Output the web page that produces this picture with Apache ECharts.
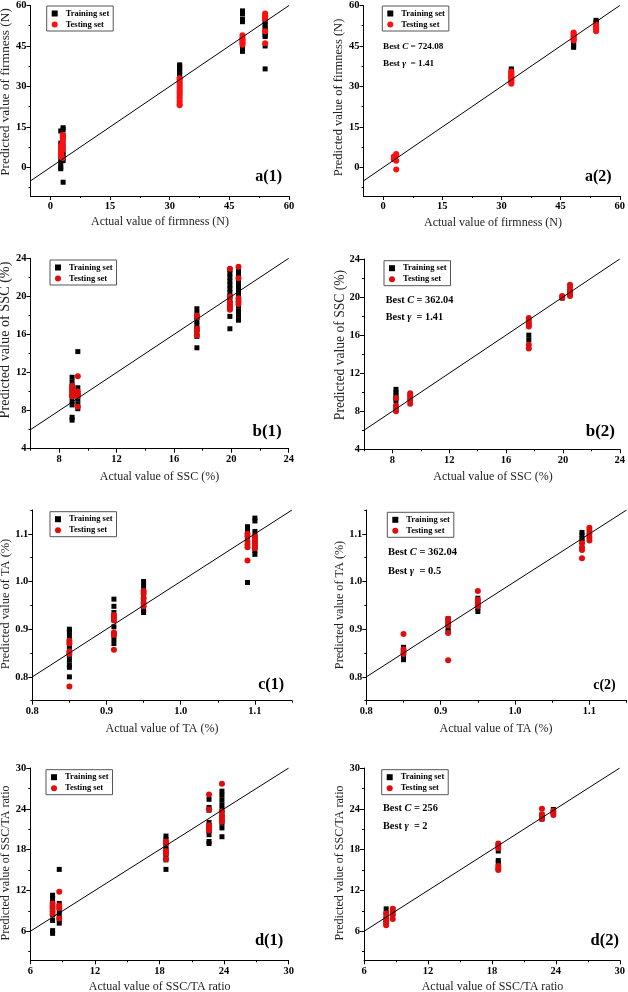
<!DOCTYPE html>
<html>
<head>
<meta charset="utf-8">
<script src="https://cdn.jsdelivr.net/npm/echarts@6/dist/echarts.min.js"></script>
<style>html,body{margin:0;padding:0;background:#fff;}#c{width:628px;height:992px;}</style>
</head>
<body>
<div id="c"></div>
<script>
// ---------- DATA (cluster x positions and predicted values per cluster) ----------
const a1TrainX = [2.6, 3.2, 32.5, 48.3, 54.0];
const a1TrainY = [[13.5, 9, 7, 5, 3, 1.5, 0, -0.5], [14.7, 14, 12, 10.5, 8, 6, 4.5, 3.5, 2.5, -5.5], [38, 37.5, 37, 36, 35.5, 34.5, 34, 33, 32, 31, 30, 29, 28, 27], [58, 57, 55, 54, 48, 47, 45, 44, 43], [56, 55, 54, 53, 52, 51, 50, 49, 48.5, 45, 36.5]];
const a1TestX = [2.7, 3.1, 32.5, 48.3, 54.0];
const a1TestY = [[8, 7, 6, 5, 4.5, 4], [12, 11, 9.5, 9, 7.5, 6.5, 3.5], [33, 32.5, 31.5, 30.5, 29.5, 28.5, 27.5, 26.5, 25.5, 24.5, 23.5, 23], [49, 48, 47.5, 47, 46.5, 46, 45.5], [57, 56, 55, 50.5, 46]];

const a2TrainX = [3.0, 32.5, 48.3, 54.0];
const a2TrainY = [[3.5, 4], [36.5, 36, 35.5, 34, 33], [47, 46, 45, 44.5], [54.5, 54, 53.5]];
const a2TestX = [2.7, 3.3, 32.5, 48.3, 54.0];
const a2TestY = [[3, 3.5, 4], [5, 4.5, 2.5, -0.8], [35.5, 35, 34.5, 34, 33.5, 33, 32.5, 32, 31.5, 31], [50, 49.5, 49, 48.5, 48, 47.5, 47], [53, 52.5, 52, 51.5, 51, 50.5]];

const b1TrainX = [8.9, 9.3, 17.6, 19.9, 20.5];
const b1TrainY = [[11.5, 11, 10.5, 10, 9.5, 9, 8.6, 7.3, 7.0], [14.2, 10.4, 9.8, 9.2, 8.7, 8.2], [18.7, 18.2, 17.8, 17.4, 17, 16.6, 16.2, 15.8, 14.6], [22.8, 22.4, 22, 21.6, 21.2, 20.8, 20.4, 20, 19.6, 19.2, 18.8, 17.9, 16.6], [23, 22.6, 22.2, 21.8, 21.4, 21, 20.6, 20.2, 19.8, 19.4, 19, 18.5, 18, 17.5]];
const b1TestX = [8.9, 9.3, 17.6, 19.9, 20.5];
const b1TestY = [[10.6, 10.3, 10, 9.7, 9.5], [11.6, 10, 9.7, 9.5, 8.4], [18, 17.8, 16.6, 16.4, 15.9], [22.9, 20, 19.4, 19.1, 18.8, 18.6], [23.1, 21.9, 19.8, 19.5, 19.2]];

const b2TrainX = [8.25, 9.25, 17.6, 19.95, 20.5];
const b2TrainY = [[10.3, 10, 9.7, 9.4, 9.1], [9.6, 9.2], [17.1, 16.0, 15.5], [20, 19.9], [20.6, 20.3]];
const b2TestX = [8.25, 9.25, 17.6, 19.95, 20.5];
const b2TestY = [[9.4, 8.6, 8.3, 8.0], [9.9, 9.6, 9.2, 8.8], [17.8, 17.5, 17.2, 16.9, 15.0, 14.6], [20.1, 19.9], [21.3, 21, 20.7, 20.4, 20.1]];

const c1TrainX = [0.85, 0.91, 0.95, 1.09, 1.1];
const c1TrainY = [[0.90, 0.895, 0.885, 0.875, 0.865, 0.855, 0.845, 0.835, 0.825, 0.82, 0.80], [0.963, 0.948, 0.935, 0.92, 0.905, 0.89, 0.88, 0.87], [1.0, 0.99, 0.98, 0.97, 0.96, 0.95, 0.94, 0.935], [1.115, 1.108, 1.1, 1.09, 1.085, 0.998], [1.133, 1.127, 1.105, 1.095, 1.085, 1.075, 1.065, 1.057]];
const c1TestX = [0.85, 0.91, 0.95, 1.09, 1.1];
const c1TestY = [[0.876, 0.87, 0.853, 0.848, 0.78], [0.93, 0.925, 0.918, 0.893, 0.888, 0.857], [0.98, 0.975, 0.965, 0.955, 0.948], [1.1, 1.095, 1.085, 1.078, 1.072, 1.044], [1.095, 1.09, 1.085, 1.08, 1.075, 1.07]];

const c2TrainX = [0.85, 0.91, 0.95, 1.09, 1.1];
const c2TrainY = [[0.862, 0.855, 0.848, 0.84, 0.836], [0.922, 0.912, 0.902, 0.895], [0.965, 0.955, 0.945, 0.937], [1.103, 1.097, 1.09, 1.085], [1.1, 1.095]];
const c2TestX = [0.85, 0.91, 0.95, 1.09, 1.1];
const c2TestY = [[0.89, 0.858, 0.852, 0.848], [0.922, 0.915, 0.908, 0.892, 0.835], [0.98, 0.962, 0.955, 0.948], [1.08, 1.072, 1.066, 1.049], [1.113, 1.107, 1.1, 1.093, 1.086]];

const d1TrainX = [8.07, 8.69, 18.6, 22.6, 23.8];
const d1TrainY = [[11.3, 10.8, 10.2, 9.6, 9.0, 8.4, 7.6, 6.1, 5.7], [15.1, 10.1, 9.6, 9.0, 8.4, 7.8, 7.2], [20, 19.5, 19, 18.5, 18, 17.5, 17, 16.5, 15.1], [25.4, 24.2, 23.8, 22, 21.5, 20.8, 20.2, 19.2, 18.9], [26.6, 26, 25.3, 24.6, 24, 23.3, 22.6, 21.9, 21.2, 19.9]];
const d1TestX = [8.07, 8.69, 18.6, 22.6, 23.8];
const d1TestY = [[10.1, 9.7, 9.3, 8.9, 8.5], [11.8, 9.8, 9.4, 7.9], [19.2, 18.9, 17.8, 17.4, 16.6], [26.1, 23.9, 21.6, 21.2, 20.8], [27.7, 23.6, 23, 22.5, 22.1]];

const d2TrainX = [8.08, 8.7, 18.6, 22.7, 23.77];
const d2TrainY = [[9.3, 8.6, 7.8, 7.2], [9.2, 8.6], [17.8, 16.4, 16.1], [23.1, 22.5], [23.9, 23.5]];
const d2TestX = [8.08, 8.7, 18.6, 22.7, 23.77];
const d2TestY = [[8.6, 8.0, 7.5, 7.2, 6.9], [9.3, 8.9, 8.4, 7.8], [18.9, 18.6, 18.2, 15.6, 15.2, 15.0], [24, 23.2, 22.8, 22.5], [23.7, 23.4, 23.1]];

// Axis ranges and tick values
const aXRange = [-5, 60], aYRange = [-10.6, 60];
const aMajor = [0, 15, 30, 45, 60], aXMinor = [7.5, 22.5, 37.5, 52.5], aYMinor = [-7.5, 7.5, 22.5, 37.5, 52.5];
const bXRange = [6, 24], bYRange = [4, 24];
const bXMajor = [8, 12, 16, 20, 24], bYMajor = [4, 8, 12, 16, 20, 24], bMinor = [6, 10, 14, 18, 22];
const cXRange = [0.8, 1.15], cYRange = [0.75, 1.15];
const cMajor = [0.8, 0.9, 1.0, 1.1], cXMinor = [0.85, 0.95, 1.05, 1.15], cYMinor = [0.75, 0.85, 0.95, 1.05, 1.15];
const dXRange = [6, 30], dYRange = [1.74, 30];
const dMajor = [6, 12, 18, 24, 30], dXMinor = [9, 15, 21, 27], dYMinor = [3, 9, 15, 21, 27];

const xNames = ['Actual value of firmness (N)', 'Actual value of SSC (%)', 'Actual value of TA (%)', 'Actual value of SSC/TA ratio'];
const yNames = ['Predicted value of firmness (N)', 'Predicted value of SSC (%)', 'Predicted value of TA (%)', 'Predicted value of SSC/TA ratio'];
const panelLabels = ['a(1)', 'a(2)', 'b(1)', 'b(2)', 'c(1)', 'c(2)', 'd(1)', 'd(2)'];
const bestC = ['724.08', '362.04', '362.04', '256'];
const bestGamma = ['1.41', '1.41', '0.5', '2'];
const legendNames = ['Training set', 'Testing set'];

// ---------- LAYOUT ----------
const FONT = '"Liberation Serif", "Times New Roman", serif';
const panels = [
  {grid: [30.5, 5, 258.5, 191], xr: aXRange, yr: aYRange, xMaj: aMajor, xMin: aXMinor, yMaj: aMajor, yMin: aYMinor, tr: [a1TrainX, a1TrainY], te: [a1TestX, a1TestY], red: '#ff1010', fmt: null,
   xName: [160, 222], yName: [5.5, 92, 13.3], lab: [282, 177, 16], leg: [46.7, 6]},
  {grid: [363.5, 5, 258, 191], xr: aXRange, yr: aYRange, xMaj: aMajor, xMin: aXMinor, yMaj: aMajor, yMin: aYMinor, tr: [a2TrainX, a2TrainY], te: [a2TestX, a2TestY], red: '#ff1010', fmt: null,
   xName: [493, 222.7], yName: [339, 97.5, 12.5], lab: [611.7, 176.7, 16], leg: [382.3, 6], best: [383, 46.7, 63.3, 9.2, 0]},
  {grid: [30.5, 258.3, 258.2, 190.4], xr: bXRange, yr: bYRange, xMaj: bXMajor, xMin: bMinor, yMaj: bYMajor, yMin: bMinor, tr: [b1TrainX, b1TrainY], te: [b1TestX, b1TestY], red: '#e00d0d', fmt: null,
   xName: [159.5, 476.7], yName: [5.5, 340, 14.2], lab: [281.7, 431.7, 17], leg: [50, 260]},
  {grid: [364, 259, 258, 190.3], xr: bXRange, yr: bYRange, xMaj: bXMajor, xMin: bMinor, yMaj: bYMajor, yMin: bMinor, tr: [b2TrainX, b2TrainY], te: [b2TestX, b2TestY], red: '#e00d0d', fmt: null,
   xName: [493, 477.3], yName: [340, 345, 13.6], lab: [615, 431.7, 17], leg: [384, 260.7], best: [385.7, 300, 317.3, 10.3, 1]},
  {grid: [32.3, 510, 259.7, 190.7], xr: cXRange, yr: cYRange, xMaj: cMajor, xMin: cXMinor, yMaj: cMajor, yMin: cYMinor, tr: [c1TrainX, c1TrainY], te: [c1TestX, c1TestY], red: '#e00d0d', fmt: 1,
   xName: [162, 729.3], yName: [5.8, 604, 12.4], lab: [284, 685, 16], leg: [50, 511.7]},
  {grid: [366.3, 510, 260.3, 190.7], xr: cXRange, yr: cYRange, xMaj: cMajor, xMin: cXMinor, yMaj: cMajor, yMin: cYMinor, tr: [c2TrainX, c2TrainY], te: [c2TestX, c2TestY], red: '#e00d0d', fmt: 1,
   xName: [496, 729.3], yName: [340, 605, 12.2], lab: [615.7, 685, 14], leg: [387.3, 512.3], best: [388, 552.7, 571, 10.5, 2]},
  {grid: [30.3, 768, 258.4, 192.3], xr: dXRange, yr: dYRange, xMaj: dMajor, xMin: dXMinor, yMaj: dMajor, yMin: dYMinor, tr: [d1TrainX, d1TrainY], te: [d1TestX, d1TestY], red: '#e00d0d', fmt: null,
   xName: [159.7, 987], yName: [5.8, 863, 12], lab: [283.3, 941, 16.5], leg: [46, 769.7]},
  {grid: [364, 768, 258, 192.3], xr: dXRange, yr: dYRange, xMaj: dMajor, xMin: dXMinor, yMaj: dMajor, yMin: dYMinor, tr: [d2TrainX, d2TrainY], te: [d2TestX, d2TestY], red: '#e00d0d', fmt: null,
   xName: [492.5, 987], yName: [340, 863, 12], lab: [619, 941, 16.5], leg: [381.7, 769.7], best: [383, 808, 826.3, 10.3, 3]}
];

function flatten(xs, ys) {
  const out = [];
  xs.forEach((x, i) => ys[i].forEach(y => out.push([x, y])));
  return out;
}

const grids = [], xAxes = [], yAxes = [], series = [], legends = [], graphics = [];
const labelStyle = {fontFamily: FONT, fontWeight: 'bold', fontSize: 10.5, color: '#000'};

panels.forEach((p, i) => {
  grids.push({left: p.grid[0], top: p.grid[1], width: p.grid[2], height: p.grid[3], containLabel: false});
  const fmt = p.fmt ? (v => Number(v).toFixed(p.fmt)) : (v => String(v));
  xAxes.push({type: 'value', gridIndex: i, position: 'bottom', min: p.xr[0], max: p.xr[1],
    axisLine: {show: true, onZero: false, lineStyle: {color: '#000', width: 1}},
    axisTick: {show: true, customValues: p.xMaj, length: 4, lineStyle: {color: '#000'}},
    axisLabel: {show: true, customValues: p.xMaj, formatter: fmt, margin: 5, ...labelStyle},
    splitLine: {show: false}});
  xAxes.push({type: 'value', gridIndex: i, position: 'bottom', min: p.xr[0], max: p.xr[1],
    axisLine: {show: false, onZero: false},
    axisTick: {show: true, customValues: p.xMin, length: 2, lineStyle: {color: '#000'}},
    axisLabel: {show: false}, splitLine: {show: false}});
  yAxes.push({type: 'value', gridIndex: i, position: 'left', min: p.yr[0], max: p.yr[1],
    axisLine: {show: true, onZero: false, lineStyle: {color: '#000', width: 1}},
    axisTick: {show: true, customValues: p.yMaj, length: 4, lineStyle: {color: '#000'}},
    axisLabel: {show: true, customValues: p.yMaj, formatter: fmt, margin: 4, ...labelStyle},
    splitLine: {show: false}});
  yAxes.push({type: 'value', gridIndex: i, position: 'left', min: p.yr[0], max: p.yr[1],
    axisLine: {show: false, onZero: false},
    axisTick: {show: true, customValues: p.yMin, length: 2, lineStyle: {color: '#000'}},
    axisLabel: {show: false}, splitLine: {show: false}});

  series.push({name: legendNames[0], type: 'scatter', xAxisIndex: 2 * i, yAxisIndex: 2 * i,
    symbol: 'rect', symbolSize: 5, itemStyle: {color: '#000', opacity: 1}, data: flatten(p.tr[0], p.tr[1]), z: 2});
  series.push({name: legendNames[1], type: 'scatter', xAxisIndex: 2 * i, yAxisIndex: 2 * i,
    symbol: 'circle', symbolSize: 6, itemStyle: {color: p.red, opacity: 1}, data: flatten(p.te[0], p.te[1]), z: 3});
  series.push({type: 'line', xAxisIndex: 2 * i, yAxisIndex: 2 * i, symbol: 'none', silent: true,
    lineStyle: {color: '#000', width: 1}, data: [[p.xr[0], p.xr[0]], [p.xr[1], p.xr[1]]], z: 4});

  legends.push({orient: 'vertical', left: p.leg[0], top: p.leg[1], data: [
      {name: legendNames[0], icon: 'rect', itemStyle: {color: '#000', opacity: 1}},
      {name: legendNames[1], icon: 'circle', itemStyle: {color: p.red, opacity: 1}}],
    itemWidth: 6, itemHeight: 6, itemGap: 2, padding: [3, 4, 2, 5],
    borderColor: '#555', borderWidth: 1, selectedMode: false,
    textStyle: {fontFamily: FONT, fontWeight: 'bold', fontSize: 8.5, color: '#000', padding: [0, 0, 0, 3]}});

  const k = Math.floor(i / 2);
  graphics.push({type: 'text', x: p.xName[0], y: p.xName[1], silent: true,
    style: {text: xNames[k], font: '12px ' + FONT, fill: '#222', align: 'center', verticalAlign: 'middle'}});
  graphics.push({type: 'text', x: p.yName[0], y: p.yName[1], rotation: Math.PI / 2, silent: true,
    style: {text: yNames[k], font: p.yName[2] + 'px ' + FONT, fill: '#222', align: 'center', verticalAlign: 'middle'}});
  graphics.push({type: 'text', x: p.lab[0], y: p.lab[1], silent: true,
    style: {text: panelLabels[i], font: 'bold ' + p.lab[2] + 'px ' + FONT, fill: '#000', align: 'right', verticalAlign: 'middle'}});
  if (p.best) {
    const fs = p.best[3];
    const rich = {b: {fontFamily: FONT, fontWeight: 'bold', fontSize: fs, fill: '#000'},
                  i: {fontFamily: FONT, fontWeight: 'bold', fontStyle: 'italic', fontSize: fs, fill: '#000'}};
    graphics.push({type: 'text', x: p.best[0], y: p.best[1], silent: true,
      style: {text: '{b|Best }{i|C}{b| = ' + bestC[p.best[4]] + '}', rich, align: 'left', verticalAlign: 'middle'}});
    graphics.push({type: 'text', x: p.best[0], y: p.best[2], silent: true,
      style: {text: '{b|Best }{i|\u03b3}{b|  = ' + bestGamma[p.best[4]] + '}', rich, align: 'left', verticalAlign: 'middle'}});
  }
});

const chart = echarts.init(document.getElementById('c'), null, {renderer: 'canvas'});
chart.setOption({
  animation: false,
  backgroundColor: '#fff',
  grid: grids, xAxis: xAxes, yAxis: yAxes, series, legend: legends, graphic: graphics
});
</script>
</body>
</html>
